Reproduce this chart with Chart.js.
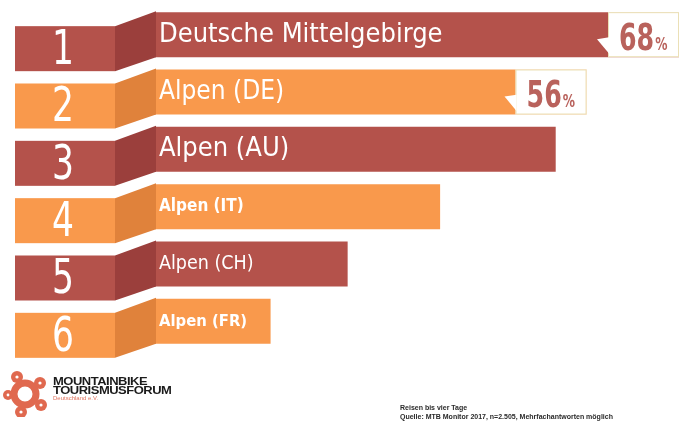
<!DOCTYPE html>
<html lang="de">
<head>
    <meta charset="UTF-8">
    <title>Reisen bis vier Tage</title>
    <script src="https://cdn.jsdelivr.net/npm/chart.js"></script>
    <style>
        * {
            margin: 0;
            padding: 0;
            box-sizing: border-box;
        }

        body {
            background: #ffffff;
            width: 679px;
            height: 423px;
            overflow: hidden;
            position: relative;
            font-family: 'Liberation Sans', sans-serif;
        }

        #chart {
            position: absolute;
            left: 0;
            top: 0;
        }

        .logo-icon {
            position: absolute;
            left: 3px;
            top: 371px;
        }

        .logo-text {
            position: absolute;
            left: 53px;
            top: 376px;
            font-weight: bold;
            color: #1b1b1b;
            line-height: 11px;
            font-size: 13px;
            letter-spacing: -0.5px;
            transform: scaleY(0.85);
            transform-origin: left top;
        }

        .logo-sub {
            font-size: 6px;
            color: #e0735e;
            line-height: 9px;
            letter-spacing: 0;
            font-weight: normal;
        }

        .source {
            position: absolute;
            left: 400px;
            top: 403px;
            font-size: 7px;
            font-weight: bold;
            color: #2a2a2a;
            line-height: 9px;
        }
    </style>
</head>
<body>
    <canvas id="chart" width="679" height="423"></canvas>

    <svg class="logo-icon" width="46" height="46" viewBox="0 0 46 46">
        <g fill="none" stroke="#e0694f" stroke-width="7">
            <circle cx="22" cy="23" r="11"/>
        </g>
        <g fill="#e0694f">
            <circle cx="14" cy="6" r="6"/>
            <circle cx="37" cy="12" r="6"/>
            <circle cx="38" cy="34" r="6"/>
            <circle cx="18" cy="41" r="6"/>
            <circle cx="5" cy="24" r="5"/>
        </g>
        <g fill="#ffffff">
            <circle cx="14" cy="6" r="1.6"/>
            <circle cx="37" cy="12" r="1.6"/>
            <circle cx="38" cy="34" r="1.6"/>
            <circle cx="18" cy="41" r="1.6"/>
            <circle cx="5" cy="24" r="1.4"/>
        </g>
    </svg>
    <div class="logo-text">
        MOUNTAINBIKE<br>TOURISMUSFORUM
        <div class="logo-sub">Deutschland e.V.</div>
    </div>

    <div class="source">
        Reisen bis vier Tage<br>
        Quelle: MTB Monitor 2017, n=2.505, Mehrfachantworten möglich
    </div>

    <script>
        // Data
        const ranks = ['1', '2', '3', '4', '5', '6'];
        const regions = ['Deutsche Mittelgebirge', 'Alpen (DE)', 'Alpen (AU)', 'Alpen (IT)', 'Alpen (CH)', 'Alpen (FR)'];
        const shares = [68, 56, 52, 37, 25, 15];
        const printedShares = [68, 56, null, null, null, null];

        // Styles
        const red = '#b4524b', redDark = '#9b3f3c';
        const orange = '#f9994c', orangeDark = '#e0823b';
        const labelFonts = ['27px', '26px', '27px', 'bold 17px', '19.5px', 'bold 16.5px'];
        const narrow = "'Liberation Sans Narrow', 'DejaVu Sans Condensed', sans-serif";

        // draws text squeezed horizontally, to look like a condensed face
        function squeezed(ctx, text, x, y, sx) {
            ctx.save();
            ctx.translate(x, y);
            ctx.scale(sx, 1);
            ctx.fillText(text, 0, 0);
            ctx.restore();
            return ctx.measureText(text).width * sx;
        }

        const ribbonPlugin = {
            id: 'ribbons',
            afterDatasetsDraw(chart) {
                const ctx = chart.ctx;
                const meta = chart.getDatasetMeta(0);
                const blockL = 15, blockR = 115, drop = 14;

                meta.data.forEach((bar, i) => {
                    const h = bar.height;
                    const top = bar.y - h / 2;
                    const bot = bar.y + h / 2;
                    const left = bar.base;
                    const even = i % 2 === 1;

                    ctx.save();
                    // rank block
                    ctx.fillStyle = even ? orange : red;
                    ctx.fillRect(blockL, top + drop, blockR - blockL, h);

                    // folded connector
                    ctx.fillStyle = even ? orangeDark : redDark;
                    ctx.beginPath();
                    ctx.moveTo(blockR, top + drop);
                    ctx.lineTo(left + 1, top - 1);
                    ctx.lineTo(left + 1, bot);
                    ctx.lineTo(blockR, bot + drop);
                    ctx.closePath();
                    ctx.fill();

                    // rank number
                    ctx.fillStyle = '#ffffff';
                    ctx.font = '500 48px ' + narrow;
                    ctx.textAlign = 'center';
                    ctx.textBaseline = 'middle';
                    ctx.strokeStyle = '#ffffff';
                    ctx.lineWidth = 1;
                    squeezed(ctx, ranks[i], (blockL + blockR) / 2 - 2, top + drop + h / 2 + 3, 0.8);

                    // region label
                    ctx.font = labelFonts[i] + ' ' + narrow;
                    ctx.textAlign = 'left';
                    ctx.fillText(regions[i], left + 4, bar.y);

                    // value box at bar end
                    if (printedShares[i] !== null) {
                        const boxW = 71;
                        const x0 = bar.x - boxW;
                        ctx.fillStyle = '#ffffff';
                        ctx.fillRect(x0, top, boxW, h);
                        ctx.strokeStyle = '#ebe0b6';
                        ctx.lineWidth = 1;
                        ctx.strokeRect(x0 + 0.5, top + 0.5, boxW - 1, h - 1);

                        ctx.beginPath();
                        ctx.moveTo(x0 - 11, top + h * 0.6);
                        ctx.lineTo(x0 + 1, top + h * 0.56);
                        ctx.lineTo(x0 + 1, top + h * 0.92);
                        ctx.closePath();
                        ctx.fill();

                        ctx.fillStyle = '#b9625c';
                        ctx.textBaseline = 'alphabetic';
                        ctx.font = 'bold 38px ' + narrow;
                        const w = squeezed(ctx, String(printedShares[i]), x0 + 11, bar.y + 15, 0.74);
                        ctx.font = 'bold 17px ' + narrow;
                        squeezed(ctx, '%', x0 + 12 + w, bar.y + 15, 0.8);
                    }
                    ctx.restore();
                });
            }
        };

        new Chart(document.getElementById('chart').getContext('2d'), {
            type: 'bar',
            data: {
                labels: regions,
                datasets: [{
                    data: shares,
                    backgroundColor: shares.map((v, i) => i % 2 ? orange : red),
                    borderWidth: 0,
                    barPercentage: 1,
                    categoryPercentage: 0.785
                }]
            },
            options: {
                indexAxis: 'y',
                responsive: false,
                animation: false,
                layout: {
                    padding: {left: 155, right: 0, top: 6, bottom: 73}
                },
                scales: {
                    x: {display: false, min: 0, max: 68},
                    y: {display: false}
                },
                plugins: {
                    legend: {display: false},
                    tooltip: {enabled: false}
                }
            },
            plugins: [ribbonPlugin]
        });
    </script>
</body>
</html>
